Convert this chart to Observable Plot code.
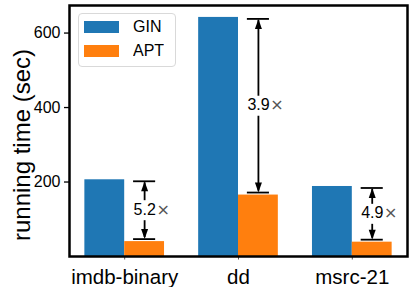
<!DOCTYPE html>
<html>
<head>
<meta charset="utf-8">
<script src="https://cdn.jsdelivr.net/npm/d3@7"></script>
<script src="https://cdn.jsdelivr.net/npm/@observablehq/plot@0.6"></script>
<style>
  body { margin: 0; background: #fff; }
  #wrap { position: relative; width: 409px; height: 287px; font-family: "Liberation Sans", Arial, sans-serif; }
  #legend { position: absolute; left: 78px; top: 13px; width: 98px; height: 54px; box-sizing: border-box;
            border: 1px solid #d9d9d9; border-radius: 4px; background: rgba(255,255,255,0.8); padding: 1px 0 0 5px; }
  #legend .lg-swatches { margin: 0; min-height: 0; font-size: 16px; font-family: "Liberation Sans", Arial, sans-serif; color: #000; }
  #legend .lg-swatch { height: 24px; display: flex; align-items: center; padding: 0; margin: 0; }
  #legend .lg-swatch svg { margin-right: 14px; flex-shrink: 0; }
</style>
</head>
<body>
<div id="wrap"></div>
<script>
// ---- data ----
const categories = ["imdb-binary", "dd", "msrc-21"];
const seriesNames = ["GIN", "APT"];
const seriesColors = ["#1f77b4", "#ff7f0e"];
const ginTime = [206, 642, 188];
const aptTime = [40, 165, 38.5];
const speedupLabels = ["5.2", "3.9", "4.9"];
const yTicks = [200, 400, 600];
const yLabel = "running time (sec)";

// ---- tables built from the arrays ----
const barWidth = 0.35;
const bars = [];
categories.forEach((c, i) => {
  [ginTime[i], aptTime[i]].forEach((v, s) => {
    const x1 = i - barWidth + s * barWidth;
    bars.push({category: c, series: seriesNames[s], value: v, x1, x2: x1 + barWidth});
  });
});
const annot = categories.map((c, i) => ({
  x: i + barWidth / 2,
  top: ginTime[i],
  bottom: aptTime[i],
  mid: (ginTime[i] + aptTime[i]) / 2,
  label: speedupLabels[i]
}));

const triUp = {draw(ctx) { ctx.moveTo(0, -5); ctx.lineTo(3.5, 5); ctx.lineTo(-3.5, 5); ctx.closePath(); }};
const triDown = {draw(ctx) { ctx.moveTo(0, 5); ctx.lineTo(3.5, -5); ctx.lineTo(-3.5, -5); ctx.closePath(); }};
const capHalf = 0.097;

const chart = Plot.plot({
  width: 409,
  height: 287,
  marginLeft: 69,
  marginRight: 2,
  marginTop: 5,
  marginBottom: 31,
  style: {fontFamily: "'Liberation Sans', Arial, sans-serif", fontSize: "16px", color: "black", background: "white", overflow: "visible"},
  x: {domain: [-0.485, 2.485]},
  y: {domain: [0, 674]},
  color: {domain: seriesNames, range: seriesColors},
  marks: [
    Plot.rectY(bars, {x1: "x1", x2: "x2", y: "value", fill: "series"}),
    Plot.axisY(yTicks, {tickSize: 5, tickPadding: 4, fontSize: 16, strokeWidth: 1.3, label: null}),
    Plot.axisX([0, 1, 2], {tickSize: 3.5, tickPadding: 9.5, fontSize: 20.5, tickFormat: i => categories[i], label: null, stroke: "#555"}),
    Plot.text([yLabel], {frameAnchor: "left", textAnchor: "middle", lineAnchor: "middle", rotate: -90, dx: -47, dy: 14, fontSize: 24, text: d => d}),
    // speed-up annotations
    Plot.ruleY(annot, {y: "top", x1: d => d.x - capHalf, x2: d => d.x + capHalf, dy: 1.5, strokeWidth: 1.8}),
    Plot.ruleY(annot, {y: "bottom", x1: d => d.x - capHalf, x2: d => d.x + capHalf, dy: -2.5, strokeWidth: 1.8}),
    Plot.ruleX(annot, {x: "x", y1: "top", y2: "mid", insetTop: 3, insetBottom: 10, strokeWidth: 1.8}),
    Plot.ruleX(annot, {x: "x", y1: "mid", y2: "bottom", insetTop: 10, insetBottom: 4, strokeWidth: 1.8}),
    Plot.dot(annot, {x: "x", y: "top", symbol: triUp, fill: "black", stroke: "none", dy: 6.5}),
    Plot.dot(annot, {x: "x", y: "bottom", symbol: triDown, fill: "black", stroke: "none", dy: -7.5}),
    Plot.text(annot, {x: "x", y: "mid", text: "label", dx: -11, dy: -1, textAnchor: "start", fontSize: 16, fill: "black"}),
    Plot.text(annot, {x: "x", y: "mid", text: () => "×", dx: 11.8, dy: -1, textAnchor: "start", fontSize: 16, fontFamily: "DejaVu Sans", fill: "#555"}),
    Plot.frame({stroke: "black", strokeWidth: 2.5})
  ]
});

const wrap = document.getElementById("wrap");
wrap.appendChild(chart);
const legendBox = document.createElement("div");
legendBox.id = "legend";
legendBox.appendChild(chart.legend("color", {legend: "swatches", columns: 1, swatchWidth: 35, swatchHeight: 12, className: "lg"}));
wrap.appendChild(legendBox);
</script>
</body>
</html>
